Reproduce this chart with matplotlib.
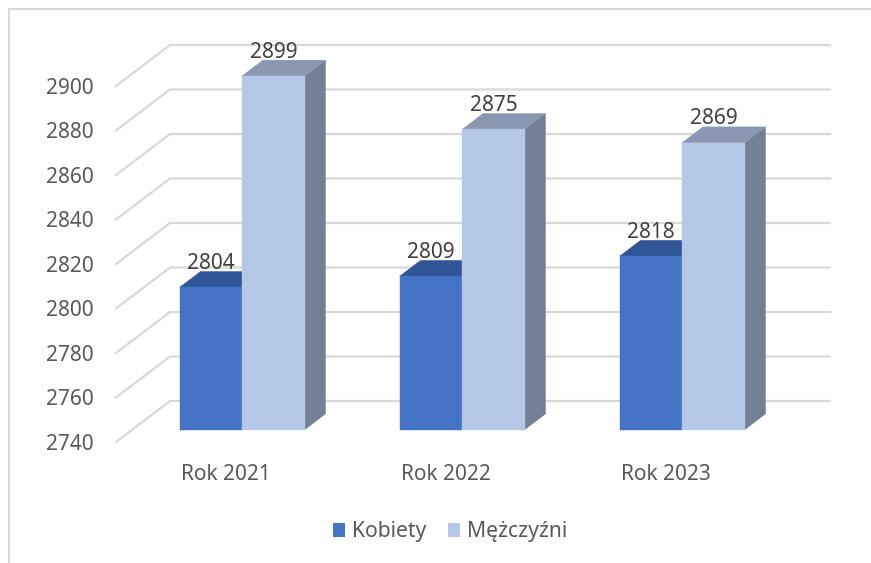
# Rok 2021-2023, Kobiety / Mezczyzni, pseudo 3D column chart
import matplotlib
matplotlib.use('Agg')
import matplotlib.pyplot as plt
from matplotlib.lines import Line2D
from matplotlib.patches import Patch, Polygon

plt.rcParams['font.family'] = ['Noto Sans', 'DejaVu Sans']

categories = ['Rok 2021', 'Rok 2022', 'Rok 2023']
kobiety = [2804, 2809, 2818]
mezczyzni = [2899, 2875, 2869]
y_ticks = [2740, 2760, 2780, 2800, 2820, 2840, 2860, 2880, 2900]

W, H = 871, 563
GRID = '#D9D9D9'

fig = plt.figure(figsize=(W / 100, H / 100), dpi=100, facecolor='white')
# the axes is the front plane of the 3D box
ax = fig.add_axes([116 / W, (H - 442) / H, 660 / W, 356 / H])
ax.set_xlim(-0.5, 2.5)
ax.set_ylim(2740, 2900)
ax.patch.set_visible(False)
for s in ax.spines.values():
    s.set_visible(False)

# how far one full unit of depth shifts a point, in data units
DX = 54 / 220
DY = 41 / (356 / 160)
BAR_W = 62.5 / 220
D_FRONT = 0.30
D_BACK = 0.685


def proj(x, v, d):
    return x + DX * d, v + DY * d


# back wall gridlines and the side wall
for v in y_ticks:
    x0, y0 = proj(-0.5, v, 0)
    x1, y1 = proj(-0.5, v, 1)
    x2, y2 = proj(2.5, v, 1)
    ax.plot([x0, x1, x2], [y0, y1, y2], color=GRID, lw=1.6, clip_on=False,
            zorder=1, solid_joinstyle='miter')


def bar3d(x_left, value, front, top, side):
    x_right = x_left + BAR_W
    base = y_ticks[0]
    a = [proj(x_left, base, D_FRONT), proj(x_right, base, D_FRONT),
         proj(x_right, value, D_FRONT), proj(x_left, value, D_FRONT)]
    b = [proj(x_right, base, D_FRONT), proj(x_right, base, D_BACK),
         proj(x_right, value, D_BACK), proj(x_right, value, D_FRONT)]
    c = [proj(x_left, value, D_FRONT), proj(x_right, value, D_FRONT),
         proj(x_right, value, D_BACK), proj(x_left, value, D_BACK)]
    for pts, col in ((b, side), (c, top), (a, front)):
        ax.add_patch(Polygon(pts, closed=True, facecolor=col, edgecolor=col,
                             lw=0.3, clip_on=False, zorder=3))
    # data label sits on top of the back edge
    xt, yt = proj(x_left + BAR_W / 2, value, D_FRONT)
    _, yb = proj(x_left, value, D_BACK)
    ax.annotate(str(value), (xt, yb), xytext=(0, 8), textcoords='offset pixels',
                ha='center', va='center', fontsize=15, color='#404040',
                annotation_clip=False, zorder=5)


for i in range(len(categories)):
    bar3d(i - BAR_W, kobiety[i], '#4472C4', '#2F5597', '#2F5597')
    bar3d(i, mezczyzni[i], '#B4C7E7', '#8997B0', '#738094')

ax.set_yticks(y_ticks)
ax.set_yticklabels([str(v) for v in y_ticks])
ax.set_xticks(range(len(categories)))
ax.set_xticklabels(categories)
ax.tick_params(axis='y', length=0, pad=16, labelsize=15, labelcolor='#595959')
ax.tick_params(axis='x', length=0, pad=16, labelsize=15, labelcolor='#595959')

handles = [Patch(facecolor='#4472C4', label='Kobiety'),
           Patch(facecolor='#B4C7E7', label='Mężczyźni')]
fig.legend(handles=handles, loc='center', bbox_to_anchor=(450 / W, (H - 532) / H),
           ncol=2, frameon=False, fontsize=15.2, labelcolor='#595959',
           handlelength=0.58, handleheight=0.58, handletextpad=0.35,
           columnspacing=1.0, borderpad=0)

# chart border, only top and left are inside the crop
fig.add_artist(Line2D([9 / W, 9 / W, 1], [0, (H - 9) / H, (H - 9) / H],
                      color=GRID, lw=1.5, transform=fig.transFigure))

fig.savefig('out.png', dpi=100)
